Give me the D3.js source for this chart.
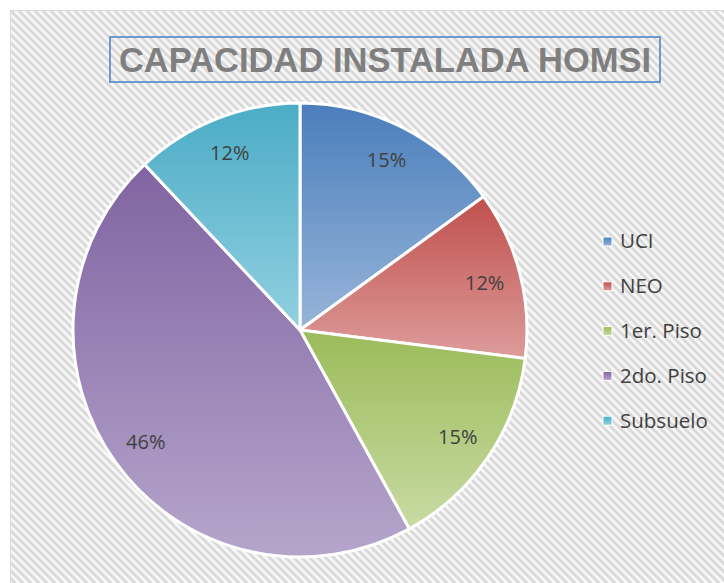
<!DOCTYPE html>
<html>
<head>
<meta charset="utf-8">
<script src="https://cdn.jsdelivr.net/npm/d3@7"></script>
<style>
  body { margin: 0; background: #fff; }
  svg { display: block; }
</style>
</head>
<body>
<div class="pie-chart-container"></div>
<script>
// datos
const categories = ['UCI', 'NEO', '1er. Piso', '2do. Piso', 'Subsuelo'];
const values = [15, 12, 15, 46, 12];
const topColors = ['#4a7ebb', '#c0504d', '#9bbb59', '#8064a2', '#4bacc6'];
const bottomColors = ['#98b5da', '#dd9c9b', '#c8dba4', '#b5a5cb', '#92d0e0'];
const title = 'CAPACIDAD INSTALADA HOMSI';

const data = categories.map((c, i) => ({ name: c, value: values[i], i: i }));

const svg_width = 724;
const svg_height = 583;

const svg = d3.select('.pie-chart-container').append('svg')
  .attr('width', svg_width).attr('height', svg_height);

const defs = svg.append('defs');

// fondo rayado diagonal
const pat = defs.append('pattern').attr('id', 'stripes')
  .attr('patternUnits', 'userSpaceOnUse').attr('width', 8).attr('height', 8);
pat.append('rect').attr('width', 8).attr('height', 8).attr('fill', '#f8f8f8');
pat.append('path').attr('d', 'M-2,-2 L10,10 M-2,6 L2,10 M6,-2 L10,2')
  .attr('stroke', '#dadada').attr('stroke-width', 3);

svg.append('rect').attr('x', 10.5).attr('y', 10.5)
  .attr('width', svg_width).attr('height', svg_height)
  .attr('fill', 'url(#stripes)').attr('stroke', '#d9d9d9').attr('stroke-width', 1);

// degradados de cada porción
data.forEach(d => {
  const g = defs.append('linearGradient').attr('id', 'grad' + d.i)
    .attr('x1', 0).attr('y1', 0).attr('x2', 0).attr('y2', 1);
  g.append('stop').attr('offset', '0%').attr('stop-color', topColors[d.i]);
  g.append('stop').attr('offset', '100%').attr('stop-color', bottomColors[d.i]);
});

// pastel
const cx = 300, cy = 330, radius = 227;
const pie = d3.pie().sort(null).value(d => d.value);
const arc = d3.arc().innerRadius(0).outerRadius(radius);
const labelArc = d3.arc().innerRadius(radius * 0.84).outerRadius(radius * 0.84);
const total = d3.sum(values);

const chart = svg.append('g').attr('transform', `translate(${cx},${cy})`);
const arcs = pie(data);

chart.selectAll('.slice')
  .data(arcs)
  .enter()
  .append('path')
  .attr('class', 'slice')
  .attr('d', arc)
  .attr('fill', d => `url(#grad${d.data.i})`)
  .attr('stroke', '#fff')
  .attr('stroke-width', 3)
  .attr('stroke-linejoin', 'round');

chart.selectAll('.label')
  .data(arcs)
  .enter()
  .append('text')
  .attr('class', 'label')
  .attr('transform', d => `translate(${labelArc.centroid(d)})`)
  .attr('text-anchor', 'middle')
  .attr('dy', '0.36em')
  .style('font-family', '"Open Sans", sans-serif')
  .style('font-size', '20px')
  .style('fill', '#404040')
  .text(d => d3.format('.0%')(d.data.value / total));

// título
svg.append('rect').attr('x', 110).attr('y', 37).attr('width', 550).attr('height', 45)
  .attr('fill', 'none').attr('stroke', '#6d98d0').attr('stroke-width', 2);
svg.append('text')
  .attr('x', 385).attr('y', 60).attr('dy', '0.36em')
  .attr('text-anchor', 'middle')
  .style('font-family', '"Liberation Sans", Arial, sans-serif')
  .style('font-weight', 'bold')
  .style('font-size', '34.5px')
  .style('fill', '#7f7f7f')
  .text(title);

// leyenda
const legend = svg.append('g').attr('class', 'legend')
  .attr('transform', 'translate(603,241)');
const rows = legend.selectAll('.row')
  .data(data)
  .enter()
  .append('g')
  .attr('class', 'row')
  .attr('transform', d => `translate(0,${d.i * 44.8})`);
rows.append('rect').attr('x', 0).attr('y', -4).attr('width', 9).attr('height', 9)
  .attr('fill', d => `url(#grad${d.i})`)
  .attr('stroke', '#fff').attr('stroke-width', 1);
rows.append('text').attr('x', 17).attr('y', 0).attr('dy', '0.36em')
  .style('font-family', '"Open Sans", sans-serif')
  .style('font-size', '20.5px')
  .style('fill', '#404040')
  .text(d => d.name);
</script>
</body>
</html>
